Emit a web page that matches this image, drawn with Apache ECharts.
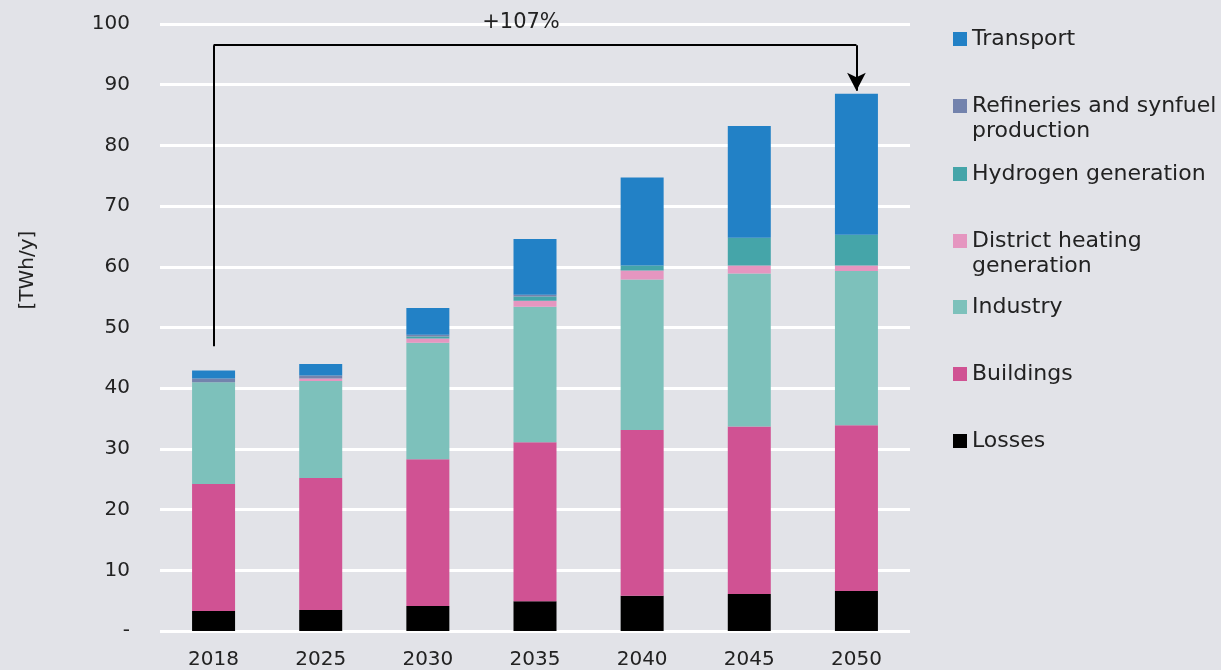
<!DOCTYPE html>
<html>
<head>
<meta charset="utf-8">
<script src="https://cdn.jsdelivr.net/npm/echarts@6/dist/echarts.min.js"></script>
<style>
  html, body { margin: 0; padding: 0; background: #e2e3e8; }
  #chart { width: 1221px; height: 670px; }
</style>
</head>
<body>
<div id="chart"></div>
<script>
const years = ['2018', '2025', '2030', '2035', '2040', '2045', '2050']
const losses = [3.3, 3.45, 4.1, 4.9, 5.8, 6.1, 6.6]
const buildings = [20.9, 21.75, 24.2, 26.2, 27.3, 27.6, 27.3]
const industry = [16.8, 16.0, 19.2, 22.3, 24.8, 25.2, 25.4]
const districtHeating = [0, 0.4, 0.7, 1.0, 1.5, 1.3, 0.9]
const hydrogen = [0, 0, 0.3, 0.7, 0.8, 4.6, 5.1]
const refineries = [0.6, 0.5, 0.3, 0.3, 0, 0, 0]
const transport = [1.3, 1.9, 4.4, 9.2, 14.5, 18.4, 23.2]

// growth annotation
const growthLabel = '+107%'
const bracketStart = 46.9
const bracketTop = 96.5
const bracketEnd = 89

const font = 'DejaVu Sans'
const textColor = '#222'

const series = [
  { name: 'Losses', data: losses, color: '#000000' },
  { name: 'Buildings', data: buildings, color: '#d05293' },
  { name: 'Industry', data: industry, color: '#7dc1bb' },
  { name: 'District heating generation', data: districtHeating, color: '#e596c0' },
  { name: 'Hydrogen generation', data: hydrogen, color: '#45a5a9' },
  { name: 'Refineries and synfuel production', data: refineries, color: '#7383ad' },
  { name: 'Transport', data: transport, color: '#2281c6' }
].map(s => ({
  name: s.name,
  type: 'bar',
  stack: 'total',
  barWidth: 43,
  data: s.data,
  itemStyle: { color: s.color },
  emphasis: { disabled: true }
}))

// bracket with arrow, hung on the top series
series[series.length - 1].markLine = {
  silent: true,
  animation: false,
  lineStyle: { color: '#000', width: 2, type: 'solid' },
  symbolSize: [14, 18],
  label: { show: false },
  data: [
    [{ coord: [years[0], bracketStart], symbol: 'none' }, { coord: [years[0], bracketTop], symbol: 'none' }],
    [
      {
        coord: [years[0], bracketTop], symbol: 'none',
        label: {
          show: true, position: 'middle', formatter: growthLabel, distance: 12,
          offset: [-14, 0],
          fontFamily: font, fontSize: 21, color: textColor
        }
      },
      { coord: [years[years.length - 1], bracketTop], symbol: 'none' }
    ],
    [{ coord: [years[years.length - 1], bracketTop], symbol: 'none' }, { coord: [years[years.length - 1], bracketEnd], symbol: 'arrow' }]
  ]
}

// legend entries: [name, top, second line]
const legendItems = [
  ['Transport', 28, ''],
  ['Refineries and synfuel production', 95, 'production'],
  ['Hydrogen generation', 163, ''],
  ['District heating generation', 230, 'generation'],
  ['Industry', 296, ''],
  ['Buildings', 363, ''],
  ['Losses', 430, '']
]

const legends = legendItems.map(([name, top, second]) => ({
  data: [name],
  left: 953,
  top: top,
  orient: 'vertical',
  itemWidth: 14,
  itemHeight: 14,
  itemGap: 0,
  padding: 0,
  selectedMode: false,
  icon: 'rect',
  textStyle: { fontFamily: font, fontSize: 22, color: textColor },
  formatter: n => second ? n.replace(' ' + second, '') : n
}))

const graphics = legendItems.filter(i => i[2]).map(([name, top, second]) => ({
  type: 'text',
  left: 972,
  top: top + 25,
  style: { text: second, fontFamily: font, fontSize: 22, fill: textColor }
}))

graphics.push({
  type: 'text',
  x: 28,
  y: 270,
  rotation: Math.PI / 2,
  style: { text: '[TWh/y]', fontFamily: font, fontSize: 20, fill: textColor, align: 'center', verticalAlign: 'middle' }
})

const chart = echarts.init(document.getElementById('chart'))
chart.setOption({
  backgroundColor: '#e2e3e8',
  animation: false,
  grid: { left: 160, right: 311, top: 24, bottom: 38 },
  legend: legends,
  graphic: graphics,
  xAxis: {
    type: 'category',
    data: years,
    axisLine: { show: false },
    axisTick: { show: false },
    axisLabel: { fontFamily: font, fontSize: 20, color: textColor, margin: 19 }
  },
  yAxis: {
    type: 'value',
    min: 0,
    max: 100,
    interval: 10,
    axisLine: { show: false },
    axisTick: { show: false },
    splitLine: { lineStyle: { color: '#ffffff', width: 3 } },
    axisLabel: {
      fontFamily: font, fontSize: 20, color: textColor, margin: 30,
      formatter: v => v === 0 ? '-' : String(v)
    }
  },
  series: series
})
</script>
</body>
</html>
